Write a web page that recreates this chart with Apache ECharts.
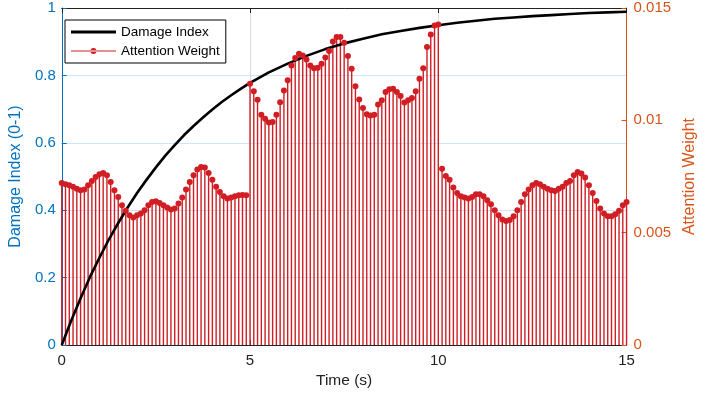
<!DOCTYPE html>
<html>
<head>
<meta charset="utf-8">
<script src="https://cdn.jsdelivr.net/npm/echarts@6/dist/echarts.min.js"></script>
<style>html,body{margin:0;padding:0;background:#fff}#c{width:706px;height:397px}</style>
</head>
<body>
<div id="c"></div>
<script>
// Stem times (s)
const stemTimes = [0,0.1,0.2,0.3,0.4,0.5,0.6,0.7,0.8,0.9,1,1.1,1.2,1.3,1.4,1.5,1.6,1.7,1.8,1.9,
2,2.1,2.2,2.3,2.4,2.5,2.6,2.7,2.8,2.9,3,3.1,3.2,3.3,3.4,3.5,3.6,3.7,3.8,3.9,
4,4.1,4.2,4.3,4.4,4.5,4.6,4.7,4.8,4.9,5,5.1,5.2,5.3,5.4,5.5,5.6,5.7,5.8,5.9,
6,6.1,6.2,6.3,6.4,6.5,6.6,6.7,6.8,6.9,7,7.1,7.2,7.3,7.4,7.5,7.6,7.7,7.8,7.9,
8,8.1,8.2,8.3,8.4,8.5,8.6,8.7,8.8,8.9,9,9.1,9.2,9.3,9.4,9.5,9.6,9.7,9.8,9.9,
10,10.1,10.2,10.3,10.4,10.5,10.6,10.7,10.8,10.9,11,11.1,11.2,11.3,11.4,11.5,11.6,11.7,11.8,11.9,
12,12.1,12.2,12.3,12.4,12.5,12.6,12.7,12.8,12.9,13,13.1,13.2,13.3,13.4,13.5,13.6,13.7,13.8,13.9,
14,14.1,14.2,14.3,14.4,14.5,14.6,14.7,14.8,14.9,15];
// Attention weights
const attentionWeight = [
0.00721,0.00716,0.00711,0.00704,0.00696,0.00689,0.00692,0.00711,0.00730,0.00748,
0.00760,0.00766,0.00756,0.00726,0.00689,0.00659,0.00622,0.00597,0.00578,0.00568,
0.00578,0.00585,0.00600,0.00622,0.00637,0.00640,0.00632,0.00622,0.00612,0.00603,
0.00608,0.00630,0.00656,0.00692,0.00726,0.00756,0.00781,0.00792,0.00790,0.00766,
0.00736,0.00704,0.00681,0.00662,0.00652,0.00656,0.00662,0.00667,0.00668,0.00667,
0.01163,0.01129,0.01092,0.01025,0.01007,0.00990,0.00993,0.01025,0.01081,0.01133,
0.01178,0.01244,0.01277,0.01296,0.01289,0.01271,0.01244,0.01232,0.01234,0.01252,
0.01280,0.01309,0.01351,0.01371,0.01371,0.01345,0.01286,0.01230,0.01152,0.01093,
0.01055,0.01027,0.01022,0.01025,0.01070,0.01089,0.01126,0.01138,0.01141,0.01126,
0.01108,0.01079,0.01089,0.01099,0.01129,0.01185,0.01232,0.01326,0.01382,0.01422,
0.01427,0.00785,0.00752,0.00736,0.00701,0.00677,0.00662,0.00656,0.00652,0.00659,
0.00671,0.00671,0.00662,0.00644,0.00627,0.00600,0.00578,0.00559,0.00552,0.00556,
0.00573,0.00600,0.00637,0.00671,0.00692,0.00711,0.00721,0.00716,0.00704,0.00696,
0.00689,0.00686,0.00696,0.00704,0.00721,0.00730,0.00756,0.00770,0.00763,0.00745,
0.00711,0.00677,0.00641,0.00608,0.00585,0.00573,0.00573,0.00582,0.00597,0.00622,
0.00636];
// Damage index curve
const damageTimes = [0,0.25,0.5,0.75,1,1.25,1.5,1.75,2,2.25,2.5,2.75,3,3.25,3.5,3.75,4,4.25,4.5,4.75,5,5.5,6,6.5,7,7.5,8,8.5,9,9.5,10,10.5,11,11.5,12,12.5,13,13.5,14,14.5,15];
const damageIndex = [0,0.072,0.139,0.202,0.259,0.313,0.362,0.408,0.451,0.490,0.527,0.562,0.593,0.623,0.650,0.675,0.699,0.721,0.741,0.760,0.778,0.809,0.835,0.858,0.878,0.895,0.909,0.922,0.932,0.941,0.949,0.956,0.962,0.968,0.972,0.976,0.979,0.982,0.985,0.987,0.989];
const xTicks = [0,5,10,15];
const leftTicks = [0,0.2,0.4,0.6,0.8,1];
const rightTicks = [0,0.005,0.01,0.015];

const FONT = 'Liberation Sans, Arial, sans-serif';
const BLUE = '#0072BD', ORANGE = '#D95319', RED = '#D01E24';
const stemData = stemTimes.map((t, i) => [t, attentionWeight[i]]);
const damageData = damageTimes.map((t, i) => [t, damageIndex[i]]);

const chart = echarts.init(document.getElementById('c'), null, {renderer: 'canvas'});
chart.setOption({
  animation: false,
  backgroundColor: '#fff',
  grid: {left: 53, right: 76, top: 8, bottom: 52, containLabel: false},
  legend: {
    data: [
      {name: 'Damage Index', icon: 'path://M0,0 L45,0 L45,2.8 L0,2.8 Z'},
      {name: 'Attention Weight', icon: 'path://M0,2.4 L45,2.4 L45,3.6 L0,3.6 Z M19.5,3 A3,3 0 1,0 25.5,3 A3,3 0 1,0 19.5,3 Z'}
    ],
    orient: 'vertical', left: 65, top: 20,
    backgroundColor: '#fff', borderColor: '#000', borderWidth: 1, borderRadius: 0,
    padding: [5, 6, 5, 6], itemGap: 5, itemWidth: 45, itemHeight: 14,
    textStyle: {fontFamily: FONT, fontSize: 13.5, color: '#000'},
    selectedMode: false
  },
  xAxis: [{
    type: 'value', min: xTicks[0], max: xTicks[xTicks.length - 1], interval: 5,
    name: 'Time (s)', nameLocation: 'middle', nameGap: 26,
    nameTextStyle: {fontFamily: FONT, fontSize: 15.5, color: '#222'},
    axisLine: {show: true, onZero: false, lineStyle: {color: '#222', width: 1}},
    axisTick: {show: true, inside: true, length: 5, lineStyle: {color: '#222'}},
    axisLabel: {fontFamily: FONT, fontSize: 15, color: '#222', margin: 8},
    splitLine: {show: true, lineStyle: {color: '#dcdcdc', width: 1}}
  }, {
    type: 'value', position: 'top', min: 0, max: 15, interval: 5,
    axisLine: {show: true, onZero: false, lineStyle: {color: '#222', width: 1}},
    axisTick: {show: true, inside: true, length: 5, lineStyle: {color: '#222'}},
    axisLabel: {show: false}, splitLine: {show: false}
  }],
  yAxis: [{
    type: 'value', min: leftTicks[0], max: leftTicks[leftTicks.length - 1], interval: 0.2,
    name: 'Damage Index (0-1)', nameLocation: 'middle', nameGap: 31, nameRotate: 90,
    nameTextStyle: {fontFamily: FONT, fontSize: 16, color: BLUE},
    axisLine: {show: true, onZero: false, lineStyle: {color: BLUE, width: 1}},
    axisTick: {show: true, inside: true, length: 5, lineStyle: {color: BLUE}},
    axisLabel: {fontFamily: FONT, fontSize: 15, color: BLUE, margin: 6},
    splitLine: {show: true, lineStyle: {color: '#cfe4f5', width: 1}}
  }, {
    type: 'value', position: 'right', min: rightTicks[0], max: rightTicks[rightTicks.length - 1], interval: 0.005,
    name: 'Attention Weight', nameLocation: 'middle', nameGap: 53, nameRotate: 90,
    nameTextStyle: {fontFamily: FONT, fontSize: 16, color: ORANGE},
    axisLine: {show: true, onZero: false, lineStyle: {color: ORANGE, width: 1}},
    axisTick: {show: true, inside: true, length: 5, lineStyle: {color: ORANGE}},
    axisLabel: {fontFamily: FONT, fontSize: 15, color: ORANGE, margin: 7,
      formatter: v => String(+v.toFixed(3))},
    splitLine: {show: false}
  }],
  series: [{
    name: 'stems', type: 'custom', yAxisIndex: 1, z: 2, silent: true,
    data: stemData,
    renderItem: function (params, api) {
      const p1 = api.coord([api.value(0), 0]);
      const p2 = api.coord([api.value(0), api.value(1)]);
      return {type: 'line', shape: {x1: p1[0], y1: p1[1], x2: p2[0], y2: p2[1]},
        style: {stroke: RED, lineWidth: 1.4}};
    }
  }, {
    name: 'Damage Index', type: 'line', yAxisIndex: 0, z: 3, data: damageData,
    showSymbol: false, symbol: 'none', smooth: false,
    lineStyle: {color: '#000', width: 2.6, join: 'round'}, itemStyle: {color: '#000'}
  }, {
    name: 'markers', type: 'scatter', yAxisIndex: 1, z: 4, data: stemData,
    symbol: 'circle', symbolSize: 6, itemStyle: {color: RED, opacity: 1}, silent: true
  }, {
    name: 'Attention Weight', type: 'line', yAxisIndex: 1, data: [],
    symbol: 'circle', symbolSize: 6, lineStyle: {color: RED, width: 1.2}, itemStyle: {color: RED}
  }]
});
</script>
</body>
</html>
